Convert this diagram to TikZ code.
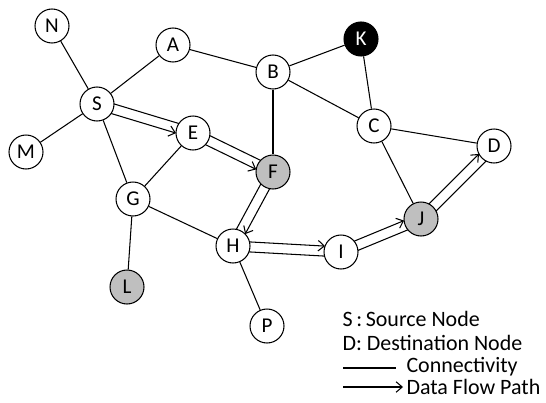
\documentclass[tikz,border=0pt]{standalone}
\usepackage{fontspec}
\setmainfont{Carlito}
\usetikzlibrary{arrows.meta,calc}
\tikzset{
	mnode/.style={draw, circle, fill=white, minimum size=0.68cm, inner sep=0, font=\fontsize{12}{14}\selectfont},
	greynode/.style={mnode, fill=black!25},
	blacknode/.style={mnode, fill=black, text=white},
	legend/.style={anchor=west, inner sep=0, font=\fontsize{12.5}{14}\selectfont},
}
% data flow: plain line and arrowed line side by side, #3 = side of the arrowed one
\newcommand{\flow}[3]{%
	\draw[shorten >=0.325cm, shorten <=0.325cm] ($(#1)!0.1cm!-#3:(#2)$) -- ($(#2)!0.1cm!#3:(#1)$);
	\draw[->, shorten >=0.325cm, shorten <=0.325cm] ($(#1)!0.1cm!#3:(#2)$) -- ($(#2)!0.1cm!-#3:(#1)$);
}

\begin{document}
\begin{tikzpicture}[>={Straight Barb[length=3.5pt,width=6pt]}, line width=0.6pt, x=0.02cm, y=-0.02cm]
	\useasboundingbox (0,0) rectangle (546,402);
	\node[mnode] (N) at (52, 26) {N};
	\node[mnode] (A) at (173, 45) {A};
	\node[mnode] (S) at (97, 104) {S};
	\node[mnode] (M) at (26, 152) {M};
	\node[mnode] (E) at (193, 133) {E};
	\node[mnode] (B) at (273, 72) {B};
	\node[blacknode] (K) at (361, 39) {K};
	\node[mnode] (C) at (374, 126) {C};
	\node[mnode] (D) at (494, 146) {D};
	\node[greynode] (F) at (273, 172) {F};
	\node[greynode] (J) at (421, 219) {J};
	\node[mnode] (G) at (133, 199) {G};
	\node[mnode] (H) at (233, 246) {H};
	\node[mnode] (I) at (341, 252) {I};
	\node[greynode] (L) at (127, 287) {L};
	\node[mnode] (P) at (267, 326) {P};
	
	% connectivity
	\draw (N) -- (S);
	\draw (S) -- (A);
	\draw (S) -- (M);
	\draw (S) -- (G);
	\draw (A) -- (B);
	\draw (B) -- (K);
	\draw (B) -- (F);
	\draw (B) -- (C);
	\draw (K) -- (C);
	\draw (C) -- (D);
	\draw (C) -- (J);
	\draw (E) -- (G);
	\draw (G) -- (H);
	\draw (G) -- (L);
	\draw (H) -- (P);
	
	% data flow path
	\flow{S}{E}{-90}
	\flow{E}{F}{-90}
	\flow{F}{H}{90}
	\flow{H}{I}{90}
	\flow{I}{J}{90}
	\flow{J}{D}{90}
	
	% legend
	\node[legend] (src) at (342, 319) {S\,:\,Source Node};
	\node[legend] (dst) at (342, 343) {D: Destination Node};
	\coordinate (c1) at (343, 368);
	\coordinate (c2) at (396, 368);
	\node[legend] (con) at (406, 367) {Connectivity};
	\coordinate (d1) at (343, 387);
	\coordinate (d2) at (403, 387);
	\node[legend] (dfp) at (406, 387) {Data Flow Path};
	\draw (c1) -- (c2);
	\draw[->] (d1) -- (d2);
\end{tikzpicture}
\end{document}
